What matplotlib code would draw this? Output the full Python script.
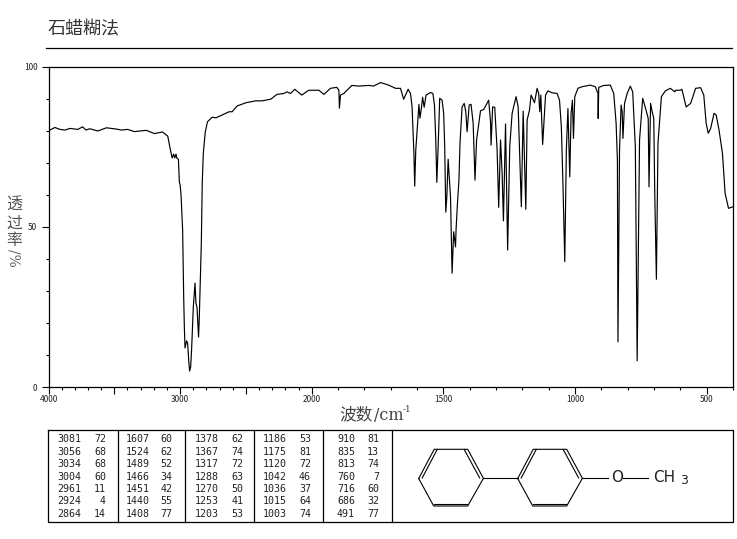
import numpy as np
import matplotlib
matplotlib.use('Agg')
import matplotlib.pyplot as plt

plt.rcParams['font.family'] = ['Noto Sans CJK SC', 'DejaVu Sans']

# spectrum: wavenumber (cm-1), transmittance (%)
wavenumber = [4000, 3989, 3951, 3913, 3875, 3837, 3777, 3741, 3716, 3686, 3626, 3560, 3484, 3446, 3399, 3346, 3308,
              3257, 3195, 3134, 3094, 3081, 3068, 3061, 3049, 3041, 3031, 3026, 3013, 3006, 3000, 2993, 2981, 2973,
              2968, 2963, 2951, 2943, 2935, 2928, 2920, 2913, 2900, 2887, 2880, 2872, 2860, 2855, 2847, 2839, 2832,
              2824, 2809, 2792, 2756, 2728, 2681, 2628, 2605, 2567, 2501, 2426, 2378, 2312, 2265, 2212, 2189, 2161,
              2129, 2076, 2023, 1973, 1954, 1929, 1905, 1897, 1895, 1891, 1878, 1848, 1821, 1784, 1765, 1739, 1708,
              1682, 1663, 1651, 1634, 1625, 1619, 1612, 1609, 1605, 1599, 1593, 1589, 1583, 1579, 1573, 1566, 1549,
              1540, 1534, 1529, 1525, 1520, 1514, 1505, 1499, 1495, 1491, 1487, 1482, 1479, 1473, 1469, 1467, 1461,
              1454, 1452, 1447, 1441, 1437, 1429, 1421, 1415, 1410, 1402, 1395, 1387, 1380, 1374, 1359, 1347, 1328,
              1321, 1319, 1313, 1305, 1296, 1290, 1283, 1277, 1272, 1264, 1256, 1248, 1239, 1224, 1216, 1207, 1204,
              1197, 1187, 1182, 1173, 1167, 1154, 1144, 1138, 1134, 1130, 1123, 1112, 1103, 1087, 1068, 1059, 1052,
              1046, 1039, 1033, 1027, 1020, 1015, 1010, 1006, 1001, 989, 973, 942, 923, 913, 912, 910, 891, 866, 853,
              844, 839, 837, 831, 825, 821, 818, 812, 802, 790, 781, 771, 764, 755, 743, 732, 722, 719, 713, 707, 701,
              697, 691, 685, 672, 657, 638, 621, 618, 600, 594, 578, 561, 542, 523, 511, 502, 494, 485, 472, 464, 453,
              440, 430, 417, 400]
transmittance = [81.2, 80.2, 81.0, 80.4, 80.2, 80.7, 80.4, 81.2, 80.2, 80.6, 79.9, 80.9, 80.5, 80.2, 80.4, 79.7, 79.9,
                 80.1, 79.1, 79.6, 78.3, 75.5, 73.0, 71.5, 72.7, 71.5, 72.7, 71.5, 71.1, 64.0, 63.1, 59.9, 49.0, 28.2,
                 18.8, 12.3, 14.5, 13.8, 8.5, 5.1, 6.4, 11.7, 25.0, 32.5, 26.3, 25.0, 15.7, 21.0, 33.5, 45.0, 63.7,
                 73.0, 79.6, 82.8, 84.2, 84.0, 84.9, 85.9, 85.9, 87.7, 88.7, 89.3, 89.3, 89.8, 91.3, 91.6, 92.1, 91.6,
                 92.9, 91.1, 92.6, 92.6, 91.3, 93.2, 93.5, 92.6, 87.0, 91.1, 91.6, 94.1, 93.9, 94.1, 93.9, 95.0, 94.2,
                 93.2, 93.2, 89.8, 92.9, 91.6, 87.4, 72.9, 62.7, 73.9, 81.2, 88.2, 83.9, 87.4, 90.4, 87.3, 91.1, 91.9,
                 91.6, 88.0, 77.1, 63.9, 75.0, 90.1, 89.5, 85.4, 75.0, 54.6, 59.4, 71.1, 67.2, 59.4, 42.8, 35.6, 48.5,
                 43.8, 49.0, 56.8, 64.6, 76.0, 87.4, 88.5, 85.9, 79.7, 88.0, 88.2, 82.3, 64.6, 77.1, 86.2, 86.6, 89.5,
                 82.8, 75.5, 87.4, 87.3, 74.0, 56.1, 77.1, 66.8, 51.9, 82.1, 42.8, 75.0, 85.4, 90.6, 87.4, 64.6, 56.3,
                 86.1, 55.5, 83.3, 86.4, 91.1, 88.7, 93.2, 91.6, 85.9, 91.1, 75.7, 91.1, 92.4, 91.8, 91.6, 89.5, 81.2,
                 63.6, 39.2, 74.0, 86.9, 65.6, 85.4, 89.5, 77.6, 90.6, 93.2, 93.7, 94.2, 93.7, 91.6, 83.8, 93.5, 94.1, 94.2, 91.6,
                 82.3, 70.8, 14.2, 74.0, 88.0, 85.9, 77.6, 88.5, 91.6, 93.9, 92.1, 75.0, 8.3, 77.1, 90.1, 86.9, 83.8, 62.5, 88.5, 85.9, 83.8,
                 59.4, 33.7, 76.0, 90.6, 92.4, 93.2, 92.1, 92.6, 92.6, 92.9, 87.4, 88.5, 93.2, 93.4, 91.1, 82.3, 79.2, 80.7, 85.4, 84.9, 80.2,
                 72.9, 60.5, 55.8, 56.3]

# peak table, one list per column
peak_wave = [[3081, 3056, 3034, 3004, 2961, 2924, 2864],
             [1607, 1524, 1489, 1466, 1451, 1440, 1408],
             [1378, 1367, 1317, 1288, 1270, 1253, 1203],
             [1186, 1175, 1120, 1042, 1036, 1015, 1003],
             [910, 835, 813, 760, 716, 686, 491]]
peak_t = [[72, 68, 68, 60, 11, 4, 14],
          [60, 62, 52, 34, 42, 55, 77],
          [62, 74, 72, 63, 50, 41, 53],
          [53, 81, 72, 46, 37, 64, 74],
          [81, 13, 74, 7, 60, 32, 77]]

x_major = [4000, 3500, 3000, 2500, 2000, 1500, 1000, 500]
x_labels = ['4000', '', '3000', '', '2000', '1500', '1000', '500']
x_minor = list(range(3900, 300, -100))
y_major = [0, 50, 100]
y_minor = list(range(10, 100, 10))


# the axis is compressed by half above 2000 cm-1
def forward(w):
    w = np.asarray(w, dtype=float)
    return np.where(w > 2000, 2000 + (w - 2000) / 2, w)


def inverse(v):
    v = np.asarray(v, dtype=float)
    return np.where(v > 2000, 2000 + (v - 2000) * 2, v)


W, H = 737, 539
fig = plt.figure(figsize=(W / 100, H / 100), dpi=100)

ax = fig.add_axes([48.5 / W, 1 - 387.4 / H, (733 - 48.5) / W, (387.4 - 66.5) / H])
ax.set_xscale('function', functions=(forward, inverse))
ax.set_xlim(4000, 400)
ax.set_ylim(0, 100)
ax.plot(wavenumber, transmittance, color='black', lw=0.85)

ax.set_xticks(x_major)
ax.set_xticklabels(x_labels)
ax.set_xticks(x_minor, minor=True)
ax.set_xticklabels([], minor=True)
ax.set_yticks(y_major)
ax.set_yticks(y_minor, minor=True)
ax.set_yticklabels([], minor=True)
ax.tick_params(which='major', length=5, width=0.8, labelsize=6, pad=3, labelcolor='#222222')
ax.tick_params(axis='x', which='major', pad=0.5)
ax.tick_params(which='minor', length=2, width=0.8)
for s in ax.spines.values():
    s.set_linewidth(0.9)

# everything around the plot is placed in picture pixels
page = fig.add_axes([0, 0, 1, 1], facecolor='none')
page.set_xlim(0, W)
page.set_ylim(H, 0)
page.axis('off')

page.text(48, 29, '石蜡糊法', fontsize=13, color='#333333', va='center', ha='left')
page.plot([46, 732], [47.5, 47.5], color='black', lw=0.9)

for ch, yy in zip('透过率', [205, 223, 241]):
    page.text(14, yy, ch, fontsize=11.5, color='#555555', ha='center', va='center')
page.text(14, 258, '/%', fontsize=10, color='#666666', rotation=270, ha='center', va='center', family='DejaVu Serif')

page.text(339, 415, '波数', fontsize=12, color='#444444', ha='left', va='center')
page.text(374, 415, '/cm', fontsize=11.5, color='#444444', ha='left', va='center', family='DejaVu Serif')
page.text(403, 409, '-1', fontsize=6.5, color='#444444', ha='left', va='center', family='DejaVu Serif')

# peak table
left, right, top, bottom = 48.5, 733, 430.3, 522.3
page.plot([left, right, right, left, left], [top, top, bottom, bottom, top], color='black', lw=0.9)
for xv in [117.7, 185.3, 254.3, 322.7, 391.7]:
    page.plot([xv, xv], [top, bottom], color='black', lw=0.9)

row_y = [439.3, 451.7, 464.3, 476.7, 488.7, 501.3, 513.7]
wave_right = [81.5, 149.5, 219, 287, 355]
t_right = [106, 172.5, 243.5, 311, 379]
for c in range(5):
    for r in range(7):
        page.text(wave_right[c], row_y[r], str(peak_wave[c][r]), fontsize=7.2, ha='right', va='center',
                  family='DejaVu Sans Mono', color='#222222')
        page.text(t_right[c], row_y[r], str(peak_t[c][r]), fontsize=7.2, ha='right', va='center',
                  family='DejaVu Sans Mono', color='#222222')


# biphenyl rings with the methoxy group
def ring(x0):
    vx = [x0, x0 + 15.5, x0 + 49, x0 + 64.7, x0 + 49, x0 + 15]
    vy = [478.5, 449.3, 449.3, 478.3, 506, 506]
    page.plot(vx + vx[:1], vy + vy[:1], color='black', lw=0.8)
    page.plot([x0 + 3.5, x0 + 18.5], [478, 449.5], color='black', lw=0.8)
    page.plot([x0 + 45.5, x0 + 61], [449.5, 478], color='black', lw=0.8)
    page.plot([x0 + 15.5, x0 + 48.5], [503.5, 503.5], color='black', lw=0.8)


ring(418.7)
ring(517.7)
page.plot([483.4, 517.7], [478.3, 478.3], color='black', lw=0.8)
page.plot([582.4, 608], [478.3, 478.3], color='black', lw=0.8)
page.plot([623, 648], [478.3, 478.3], color='black', lw=0.8)
page.text(617.5, 478, 'O', fontsize=11, ha='center', va='center', color='#222222', family='DejaVu Sans')
page.text(653, 478, 'CH', fontsize=11, ha='left', va='center', color='#222222', family='DejaVu Sans')
page.text(680, 481, '3', fontsize=9, ha='left', va='center', color='#222222', family='DejaVu Sans')

fig.savefig('out.png', dpi=100)
